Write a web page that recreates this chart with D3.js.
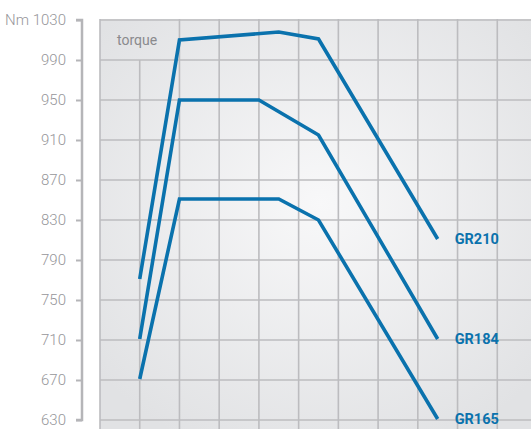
<!DOCTYPE html>
<html>
<head>
<meta charset="utf-8">
<script src="https://cdn.jsdelivr.net/npm/d3@7"></script>
<style>
  body { margin: 0; background: #fff; }
  svg { display: block; }
</style>
</head>
<body>
<svg width="531" height="429"></svg>
<script>
// break points of each torque curve: engine speed (rpm) and torque (Nm)
var names = ["GR210", "GR184", "GR165"];
var rpm210 = [1000, 1200, 1700, 1900, 2500];
var nm210  = [771, 1010, 1018, 1011, 811];
var rpm184 = [1000, 1200, 1600, 1900, 2500];
var nm184  = [711, 950, 950, 915, 711];
var rpm165 = [1000, 1200, 1700, 1900, 2500];
var nm165  = [671, 851, 851, 830, 631];

var yTicks = [630, 670, 710, 750, 790, 830, 870, 910, 950, 990, 1030];
var xGrid = d3.range(800, 3001, 200);

var series = [
    {name: names[0], rpm: rpm210, nm: nm210},
    {name: names[1], rpm: rpm184, nm: nm184},
    {name: names[2], rpm: rpm165, nm: nm165}
];

var svg = d3.select("svg");

var scX = d3.scaleLinear().domain([800, 3000]).range([100, 537]);
var scY = d3.scaleLinear().domain([630, 1030]).range([420, 20]);

// background gradient
var defs = svg.append("defs");
var grad = defs.append("radialGradient").attr("id", "bg")
    .attr("cx", "0.5").attr("cy", "0.45").attr("r", "0.65");
grad.append("stop").attr("offset", "0").attr("stop-color", "#f8f8f9");
grad.append("stop").attr("offset", "1").attr("stop-color", "#e1e2e4");

svg.append("rect")
    .attr("x", 100).attr("y", scY(1030) - 1)
    .attr("width", 440).attr("height", 429 - scY(1030) + 1)
    .attr("fill", "url(#bg)");

// grid
var grid = svg.append("g").attr("stroke", "#bcbcbf").attr("stroke-width", 1.6);
grid.selectAll("line.h")
    .data(yTicks).enter()
    .append("line")
    .attr("x1", 100).attr("x2", 531)
    .attr("y1", d => scY(d)).attr("y2", d => scY(d));
grid.selectAll("line.v")
    .data(xGrid).enter()
    .append("line")
    .attr("x1", d => scX(d)).attr("x2", d => scX(d))
    .attr("y1", d => d == 1000 ? scY(990) : scY(1030) - 1)   // no line through the "torque" cell
    .attr("y2", 429);

svg.append("text")
    .attr("x", 117).attr("y", 45)
    .attr("font-family", "Roboto, sans-serif").attr("font-size", 14)
    .attr("fill", "#8a8a8d")
    .text("torque");

// y axis
var axis = d3.axisLeft(scY)
    .tickValues(yTicks)
    .tickSize(6)
    .tickPadding(10)
    .tickFormat(d => d == 1030 ? "Nm 1030" : d);

var gAxis = svg.append("g")
    .attr("transform", "translate(82,0)")
    .call(axis);
gAxis.select(".domain").attr("stroke", "#b5b5b8").attr("stroke-width", 2.5)
    .attr("d", "M-6," + scY(1030) + "H0V" + scY(630) + "H-6");
gAxis.selectAll(".tick line").attr("stroke", "#b5b5b8").attr("stroke-width", 2);
gAxis.selectAll(".tick text")
    .attr("font-family", "Roboto, sans-serif").attr("font-size", 15)
    .attr("font-weight", 300)
    .attr("fill", "#96969a");

// curves
var lineMaker = d3.line()
    .x(d => scX(d[0]))
    .y(d => scY(d[1]));

var gLines = svg.append("g");
series.forEach(function(s) {
    var pts = s.rpm.map((r, i) => [r, s.nm[i]]);
    var last = pts[pts.length - 1];
    gLines.append("path")
        .attr("fill", "none").attr("stroke", "#0a72ad")
        .attr("stroke-width", 3.6)
        .attr("d", lineMaker(pts));
    gLines.append("text")
        .attr("x", scX(last[0]) + 17)
        .attr("y", scY(last[1]) + 5)
        .attr("font-family", "Roboto, sans-serif")
        .attr("font-size", 14.5).attr("font-weight", 700)
        .attr("fill", "#0a72ad")
        .text(s.name);
});
</script>
</body>
</html>
